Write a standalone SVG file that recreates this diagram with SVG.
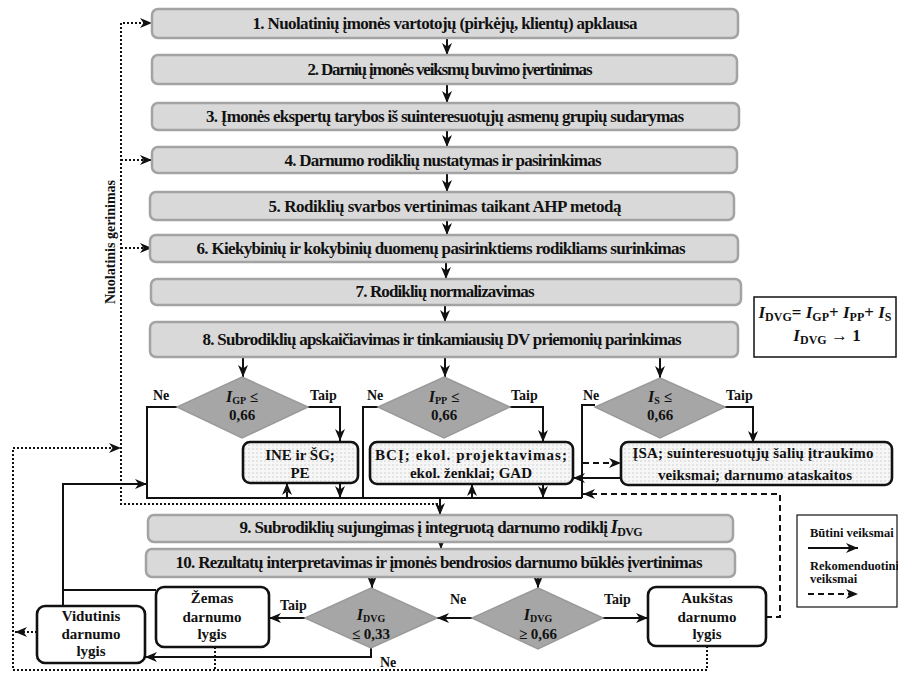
<svg xmlns="http://www.w3.org/2000/svg" width="898" height="673" viewBox="0 0 898 673" font-family="'Liberation Serif', 'Times New Roman', serif" font-weight="bold">
<style>
svg text{font-family:'Liberation Serif','Times New Roman',serif;font-weight:bold;fill:#111}
.step rect{fill:#d9d9d9;stroke:#a3a3a3;stroke-width:2.5}
.st{font-size:17px}
.dia polygon{fill:#a6a6a6;stroke:#9a9a9a;stroke-width:1.5}
.dt{font-size:15px}
.res rect{fill:url(#dots);stroke:#111;stroke-width:2.6}
.lvl rect{fill:#fff;stroke:#111;stroke-width:2.6}
.rt{font-size:15px}
.lbl{font-size:14px}
.c{fill:none;stroke:#111;stroke-width:2}
.a{marker-end:url(#ah)}
.da{fill:none;stroke:#111;stroke-width:2;stroke-dasharray:6 4}
.dot{fill:none;stroke:#111;stroke-width:2;stroke-dasharray:2 2}
</style>
<defs>
<marker id="ah" viewBox="0 0 12 10" refX="12" refY="5" markerWidth="12" markerHeight="10" markerUnits="userSpaceOnUse" orient="auto"><path d="M0,0 L12,5 L0,10 L3.5,5 z" fill="#111"/></marker>
<pattern id="dots" width="4" height="4" patternUnits="userSpaceOnUse"><rect width="4" height="4" fill="#f6f6f6"/><circle cx="1" cy="1" r="0.7" fill="#c4c4c4"/></pattern>
</defs>

<g id="connectors">
<path class="c a" d="M447,38 V55"/>
<path class="c a" d="M447,84 V103"/>
<path class="c a" d="M447,130 V147"/>
<path class="c a" d="M447,173 V192"/>
<path class="c a" d="M447,220 V235"/>
<path class="c a" d="M446,262 V279"/>
<path class="c a" d="M445,305 V322"/>
<path class="c a" d="M243,357 V377"/>
<path class="c a" d="M445,357 V377"/>
<path class="c a" d="M660,357 V378"/>
<path class="c" d="M177,407 H147 V498 H582"/>
<path class="c" d="M378,407 H363 V498"/>
<path class="c" d="M595,405 H582 V498"/>
<path class="c a" d="M308,407 H340 V441"/>
<path class="c a" d="M510,407 H543 V442"/>
<path class="c a" d="M725,407 H753 V443"/>
<path class="c a" d="M340,483 V498"/>
<path class="c a" d="M543,484 V498"/>
<path class="da a" d="M287,498 V483"/>
<path class="da a" d="M472,498 V484"/>
<path class="c a" d="M621,478 H573"/>
<path class="da a" d="M583,463 H621"/>
<path class="da a" d="M766,617 H780 V494 H583"/>
<path class="c a" d="M440,498 V515"/>
<path class="c a" d="M441,542 V549"/>
<path class="c a" d="M372,577 V588"/>
<path class="c a" d="M538,577 V588"/>
<path class="c a" d="M472,618 H437"/>
<path class="c a" d="M603,618 H648"/>
<path class="c a" d="M305,618 H269"/>
<path class="c a" d="M371,648 V657 H145"/>
<path class="c" d="M156,590 H63"/>
<path class="c a" d="M63,606 V484 H147"/>
<path class="dot a" d="M438,504 H121 V23 H152"/>
<path class="dot a" d="M121,160 H152"/>
<path class="dot a" d="M121,248 H152"/>
<path class="dot a" d="M707,646 V670 H13 V448 H121"/>
<path class="dot" d="M215,647 V670"/>
<path class="dot a" d="M37,632 H15"/>
<text class="lbl" x="153" y="400">Ne</text>
<text class="lbl" x="310" y="400">Taip</text>
<text class="lbl" x="367" y="400">Ne</text>
<text class="lbl" x="511" y="400">Taip</text>
<text class="lbl" x="583" y="400">Ne</text>
<text class="lbl" x="726" y="400">Taip</text>
<text class="lbl" x="450" y="604">Ne</text>
<text class="lbl" x="604" y="604">Taip</text>
<text class="lbl" x="280" y="610">Taip</text>
<text class="lbl" x="380" y="667">Ne</text>
<text class="lbl" font-size="15" transform="translate(115,242) rotate(-90)" text-anchor="middle">Nuolatinis gerinimas</text>
</g>

<g id="s1" class="step"><rect x="152" y="9" width="586" height="29" rx="6"/><text class="st" x="445" y="29" text-anchor="middle" textLength="385">1. Nuolatinių įmonės vartotojų (pirkėjų, klientų) apklausa</text></g>
<g id="s2" class="step"><rect x="152" y="55" width="585" height="29" rx="6"/><text class="st" x="450" y="75" text-anchor="middle" textLength="285">2. Darnių įmonės veiksmų buvimo įvertinimas</text></g>
<g id="s3" class="step"><rect x="152" y="103" width="587" height="27" rx="6"/><text class="st" x="445" y="122" text-anchor="middle" textLength="478">3. Įmonės ekspertų tarybos iš suinteresuotųjų asmenų grupių sudarymas</text></g>
<g id="s4" class="step"><rect x="152" y="147" width="585" height="26" rx="6"/><text class="st" x="443" y="166" text-anchor="middle" textLength="317">4. Darnumo rodiklių nustatymas ir pasirinkimas</text></g>
<g id="s5" class="step"><rect x="150" y="192" width="584" height="28" rx="6"/><text class="st" x="445" y="212" text-anchor="middle" textLength="353">5. Rodiklių svarbos vertinimas taikant AHP metodą</text></g>
<g id="s6" class="step"><rect x="150" y="235" width="588" height="27" rx="6"/><text class="st" x="441" y="254" text-anchor="middle" textLength="489">6. Kiekybinių ir kokybinių duomenų pasirinktiems rodikliams surinkimas</text></g>
<g id="s7" class="step"><rect x="151" y="279" width="590" height="26" rx="6"/><text class="st" x="445" y="297" text-anchor="middle" textLength="179">7. Rodiklių normalizavimas</text></g>
<g id="s8" class="step"><rect x="150" y="322" width="588" height="35" rx="6"/><text class="st" x="442" y="345" text-anchor="middle" textLength="479">8. Subrodiklių apskaičiavimas ir tinkamiausių DV priemonių parinkimas</text></g>
<g id="s9" class="step"><rect x="148" y="515" width="585" height="27" rx="6"/><text class="st" x="441" y="533" text-anchor="middle" textLength="403">9. Subrodiklių sujungimas į integruotą darnumo rodiklį <tspan font-style="italic" font-size="18">I</tspan><tspan font-size="12" dy="3">DVG</tspan></text></g>
<g id="s10" class="step"><rect x="146" y="549" width="589" height="28" rx="6"/><text class="st" x="439" y="568" text-anchor="middle" textLength="527">10. Rezultatų interpretavimas ir įmonės bendrosios darnumo būklės įvertinimas</text></g>

<g id="dGP" class="dia"><polygon points="242,377 308,407 242,438 177,407"/><text class="dt" x="242" y="402" text-anchor="middle"><tspan font-style="italic" font-size="16">I</tspan><tspan font-size="10" dy="2">GP</tspan><tspan dy="-2"> ≤</tspan></text><text class="dt" x="242" y="420" text-anchor="middle">0,66</text></g>
<g id="dPP" class="dia"><polygon points="444,377 510,407 444,438 378,407"/><text class="dt" x="444" y="402" text-anchor="middle"><tspan font-style="italic" font-size="16">I</tspan><tspan font-size="10" dy="2">PP</tspan><tspan dy="-2"> ≤</tspan></text><text class="dt" x="444" y="420" text-anchor="middle">0,66</text></g>
<g id="dS" class="dia"><polygon points="660,378 725,407 660,438 595,407"/><text class="dt" x="660" y="402" text-anchor="middle"><tspan font-style="italic" font-size="16">I</tspan><tspan font-size="10" dy="2">S</tspan><tspan dy="-2"> ≤</tspan></text><text class="dt" x="660" y="420" text-anchor="middle">0,66</text></g>

<g id="rGP" class="res"><rect x="243" y="442" width="115" height="41" rx="7"/><text class="rt" x="300" y="460" text-anchor="middle">INE ir ŠG;</text><text class="rt" x="300" y="478" text-anchor="middle">PE</text></g>
<g id="rPP" class="res"><rect x="370" y="442" width="203" height="42" rx="7"/><text class="rt" x="471" y="460" text-anchor="middle" textLength="192">BCĮ; ekol. projektavimas;</text><text class="rt" x="471" y="478" text-anchor="middle">ekol. ženklai; GAD</text></g>
<g id="rS" class="res"><rect x="621" y="442" width="271" height="43" rx="7"/><text class="rt" x="753" y="458" text-anchor="middle" textLength="241">ĮSA; suinteresuotųjų šalių įtraukimo</text><text class="rt" x="755" y="480" text-anchor="middle" textLength="194">veiksmai; darnumo ataskaitos</text></g>

<g id="formula"><rect x="754" y="297" width="142" height="60" fill="#fff" stroke="#111" stroke-width="1.5"/><text x="825" y="318" text-anchor="middle" font-size="17"><tspan font-style="italic">I</tspan><tspan font-size="12" dy="3">DVG</tspan><tspan dy="-3">= </tspan><tspan font-style="italic">I</tspan><tspan font-size="12" dy="3">GP</tspan><tspan dy="-3">+ </tspan><tspan font-style="italic">I</tspan><tspan font-size="12" dy="3">PP</tspan><tspan dy="-3">+ </tspan><tspan font-style="italic">I</tspan><tspan font-size="12" dy="3">S</tspan></text><text x="827" y="341" text-anchor="middle" font-size="17"><tspan font-style="italic">I</tspan><tspan font-size="12" dy="3">DVG</tspan><tspan dy="-3"> → 1</tspan></text></g>

<g id="dLow" class="dia"><polygon points="371,588 437,618 371,648 305,618"/><text class="dt" x="371" y="620" text-anchor="middle"><tspan font-style="italic" font-size="16">I</tspan><tspan font-size="10" dy="2">DVG</tspan></text><text class="dt" x="371" y="639" text-anchor="middle">≤ 0,33</text></g>
<g id="dHigh" class="dia"><polygon points="538,588 603,618 538,649 472,618"/><text class="dt" x="538" y="620" text-anchor="middle"><tspan font-style="italic" font-size="16">I</tspan><tspan font-size="10" dy="2">DVG</tspan></text><text class="dt" x="538" y="639" text-anchor="middle">≥ 0,66</text></g>

<g id="lHigh" class="lvl"><rect x="648" y="587" width="118" height="59" rx="8"/><text class="rt" x="707" y="603" text-anchor="middle">Aukštas</text><text class="rt" x="707" y="622" text-anchor="middle">darnumo</text><text class="rt" x="707" y="639" text-anchor="middle">lygis</text></g>
<g id="lLow" class="lvl"><rect x="156" y="587" width="113" height="60" rx="8"/><text class="rt" x="212" y="603" text-anchor="middle">Žemas</text><text class="rt" x="212" y="622" text-anchor="middle">darnumo</text><text class="rt" x="212" y="639" text-anchor="middle">lygis</text></g>
<g id="lMid" class="lvl"><rect x="37" y="606" width="108" height="57" rx="8"/><text class="rt" x="91" y="621" text-anchor="middle">Vidutinis</text><text class="rt" x="91" y="639" text-anchor="middle">darnumo</text><text class="rt" x="91" y="656" text-anchor="middle">lygis</text></g>

<g id="legend"><rect x="797" y="515" width="100" height="92" fill="#fff" stroke="#111" stroke-width="1.2"/><text x="810" y="537" font-size="12.5">Būtini veiksmai</text><path class="c a" d="M808,548 H858"/><text x="810" y="570" font-size="12.5">Rekomenduotini</text><text x="810" y="583" font-size="12.5">veiksmai</text><path class="da a" d="M808,594 H858"/></g>
</svg>
